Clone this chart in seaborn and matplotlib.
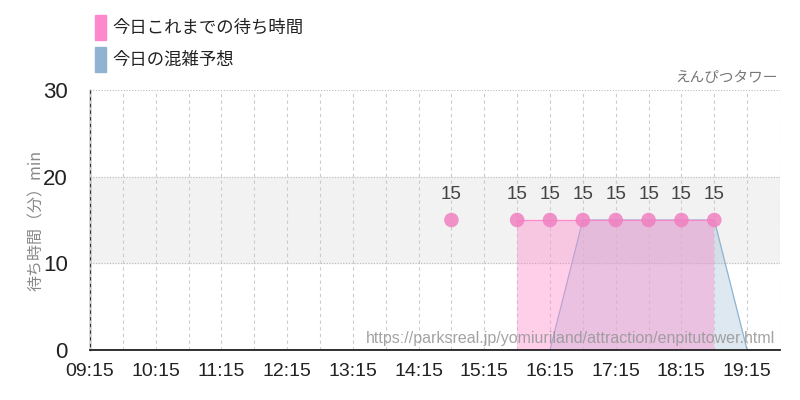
import numpy as np
import pandas as pd
import matplotlib
matplotlib.use("Agg")
import matplotlib.pyplot as plt
import seaborn as sns

# data
pred_times = ["09:15", "09:45", "10:15", "10:45", "11:15", "11:45", "12:15", "12:45",
              "13:15", "13:45", "14:15", "14:45", "15:15", "15:45", "16:15", "16:45",
              "17:15", "17:45", "18:15", "18:45", "19:15", "19:45"]
pred_waits = [0, 0, 0, 0, 0, 0, 0, 0, 0, 0, 0, 0, 0, 0, 0, 15, 15, 15, 15, 15, 0, 0]

actual_times = ["14:45", "15:15", "15:45", "16:15", "16:45", "17:15", "17:45", "18:15", "18:45"]
actual_waits = [15, np.nan, 15, 15, 15, 15, 15, 15, 15]

tick_labels = ["09:15", "10:15", "11:15", "12:15", "13:15", "14:15",
               "15:15", "16:15", "17:15", "18:15", "19:15"]

title_right = "えんぴつタワー"
legend_labels = ["今日これまでの待ち時間", "今日の混雑予想"]
y_label = "待ち時間（分）min"
source_url = "https://parksreal.jp/yomiuriland/attraction/enpitutower.html"


def to_hours(t):
    h, m = t.split(":")
    return int(h) + int(m) / 60


pred = pd.DataFrame({"t": [to_hours(t) for t in pred_times], "wait": pred_waits})
actual = pd.DataFrame({"t": [to_hours(t) for t in actual_times], "wait": actual_waits})

PINK = "#ff88cc"
BLUE = "#8fb3d0"
JP = ["Noto Sans CJK JP", "DejaVu Sans"]
NUM = ["Liberation Sans", "DejaVu Sans"]

sns.set_style("white")
fig = plt.figure(figsize=(8, 4), dpi=100)
ax = fig.add_axes([0.1125, 0.125, 0.8625, 0.65])

# comfort band 10-20
ax.axhspan(10, 20, color="#f2f2f2", zorder=0)

# prediction area
ax.fill_between(pred["t"], 0, pred["wait"], color=BLUE, alpha=0.3, lw=0, zorder=2)
sns.lineplot(data=pred, x="t", y="wait", ax=ax, color=BLUE, lw=0.9, zorder=3)

# actual area (gap at 15:15 breaks the line)
valid = actual["wait"].notna()
seg = valid & valid.shift(1, fill_value=False)
fill_mask = seg | seg.shift(-1, fill_value=False)
ax.fill_between(actual["t"], 0, actual["wait"].fillna(0), where=fill_mask,
                color=PINK, alpha=0.4, lw=0, zorder=4)
ax.plot(actual["t"], actual["wait"], color=PINK, lw=0.9, zorder=5)
sns.scatterplot(data=actual, x="t", y="wait", ax=ax, color="#f080c0", s=110,
                alpha=0.85, edgecolor="none", zorder=6)
for t, w in zip(actual["t"], actual["wait"]):
    if not np.isnan(w):
        ax.text(t, w + 2.0, f"{w:g}", ha="center", va="bottom", fontsize=13.5,
                color="#444444", family=NUM)

ax.set_xlim(to_hours("09:15"), 19.69)
ax.set_ylim(0, 30)

ax.set_xticks([to_hours(t) for t in tick_labels])
ax.set_xticklabels(tick_labels, family=NUM, fontsize=14, color="#222222")
ax.set_xticks([to_hours(t) for t in pred_times], minor=True)
ax.set_yticks([0, 10, 20, 30])
ax.set_yticklabels(["0", "10", "20", "30"], family=NUM, fontsize=16, color="#222222")
ax.tick_params(axis="y", which="major", length=14, color="#bbbbbb", width=1, pad=2)
ax.tick_params(axis="x", which="major", length=6, color="#bbbbbb", width=1, pad=3)
ax.tick_params(axis="x", which="minor", length=0)

ax.grid(axis="x", which="both", color="#cccccc", ls=(0, (3, 3)), lw=0.8, zorder=1)
ax.grid(axis="y", which="major", color="#bbbbbb", ls=(0, (1, 1.5)), lw=0.8, zorder=1)
ax.set_axisbelow(False)

for s in ["top", "right"]:
    ax.spines[s].set_visible(False)
ax.spines["left"].set_color("#333333")
ax.spines["left"].set_linewidth(1)
ax.spines["bottom"].set_color("#222222")
ax.spines["bottom"].set_linewidth(1.3)
ax.spines["bottom"].set_zorder(7)

ax.set_xlabel("")
ax.set_ylabel(y_label, family=JP, fontsize=11.5, color="#888888")
ax.yaxis.set_label_coords(-0.065, 0.5)

# legend
fig.patches.append(plt.Rectangle((95 / 800, 1 - 40 / 400), 11 / 800, 25 / 400,
                                 transform=fig.transFigure, color=PINK))
fig.patches.append(plt.Rectangle((95 / 800, 1 - 72 / 400), 11 / 800, 25 / 400,
                                 transform=fig.transFigure, color=BLUE))
fig.text(112 / 800, 1 - 28 / 400, legend_labels[0], family=JP, fontsize=12.5,
         color="#222222", va="center")
fig.text(112 / 800, 1 - 60 / 400, legend_labels[1], family=JP, fontsize=12.5,
         color="#222222", va="center")

fig.text(778 / 800, 1 - 78 / 400, title_right, family=JP, fontsize=10.5,
         color="#777777", ha="right", va="center")

ax.text(0.993, 0.045, source_url, transform=ax.transAxes, ha="right", va="center",
        family=NUM, fontsize=11.5, color="#999999", alpha=0.9, zorder=8)

fig.savefig("out.png", dpi=100)
